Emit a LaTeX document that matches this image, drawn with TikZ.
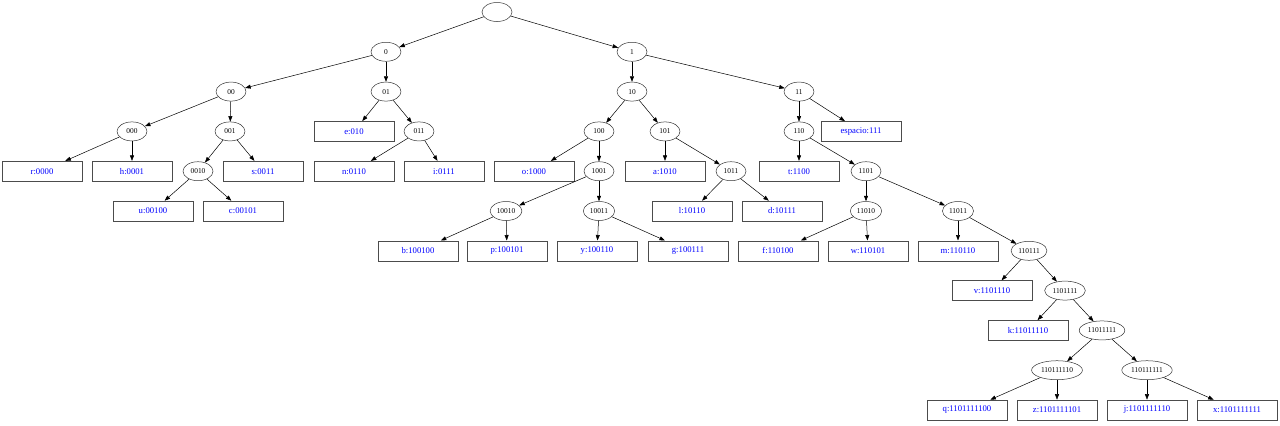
\documentclass[tikz,border=0pt]{standalone}
\usepackage{fontspec}
\setmainfont{Liberation Serif}
\usetikzlibrary{shapes.geometric, arrows.meta}
\begin{document}
\begin{tikzpicture}[x=1pt, y=-39.8pt, line width=0.5pt, >={Triangle[length=5.5pt, width=4pt]},
	codenode/.style={ellipse, draw=black!80, minimum width=30pt, minimum height=19pt, inner xsep=2pt, inner ysep=1pt, font=\fontsize{7.4}{8}\selectfont},
	charbox/.style={rectangle, draw=black!70, line width=0.6pt, minimum width=80pt, minimum height=20pt, inner sep=0pt, text=blue, font=\fontsize{8.7}{10}\selectfont}]
	\useasboundingbox (0, -0.3015) rectangle (1280, 10.377);
	\node[codenode](b) at (497, 0){};
	\node[codenode](b0) at (386, 1){0};
	\node[codenode](b1) at (632, 1){1};
	\node[codenode](b00) at (231, 2){00};
	\node[codenode](b01) at (386, 2){01};
	\node[codenode](b10) at (632, 2){10};
	\node[codenode](b11) at (799, 2){11};
	\node[codenode](b000) at (132, 3){000};
	\node[codenode](b001) at (230, 3){001};
	\node[charbox](E) at (354, 3){e:010};
	\node[codenode](b011) at (419, 3){011};
	\node[codenode](b100) at (599, 3){100};
	\node[codenode](b101) at (665, 3){101};
	\node[codenode](b110) at (799, 3){110};
	\node[charbox](SP) at (861, 3){espacio:111};
	\node[charbox](R) at (42, 4){r:0000};
	\node[charbox](H) at (132, 4){h:0001};
	\node[codenode](b0010) at (198, 4){0010};
	\node[charbox](S) at (263, 4){s:0011};
	\node[charbox](N) at (354, 4){n:0110};
	\node[charbox](I) at (444, 4){i:0111};
	\node[charbox](O) at (534, 4){o:1000};
	\node[codenode](b1001) at (599, 4){1001};
	\node[charbox](A) at (665, 4){a:1010};
	\node[codenode](b1011) at (731, 4){1011};
	\node[charbox](T) at (799, 4){t:1100};
	\node[codenode](b1101) at (866, 4){1101};
	\node[charbox](U) at (153, 5){u:00100};
	\node[charbox](C) at (243, 5){c:00101};
	\node[codenode](b10010) at (506, 5){10010};
	\node[codenode](b10011) at (599, 5){10011};
	\node[charbox](L) at (692, 5){l:10110};
	\node[charbox](D) at (782, 5){d:10111};
	\node[codenode](b11010) at (866, 5){11010};
	\node[codenode](b11011) at (958, 5){11011};
	\node[charbox](B) at (418, 6){b:100100};
	\node[charbox](P) at (507, 6){p:100101};
	\node[charbox](Y) at (597, 6){y:100110};
	\node[charbox](G) at (688, 6){g:100111};
	\node[charbox](F) at (778, 6){f:110100};
	\node[charbox](W) at (868, 6){w:110101};
	\node[charbox](M) at (958, 6){m:110110};
	\node[codenode](b110111) at (1029, 6){110111};
	\node[charbox](V) at (992, 7){v:1101110};
	\node[codenode](b1101111) at (1065, 7){1101111};
	\node[charbox](K) at (1028, 8){k:11011110};
	\node[codenode](b11011111) at (1102, 8){11011111};
	\node[codenode](b110111110) at (1057, 9){110111110};
	\node[codenode](b110111111) at (1147, 9){110111111};
	\node[charbox](Q) at (967, 10){q:1101111100};
	\node[charbox](Z) at (1057, 10){z:1101111101};
	\node[charbox](J) at (1147, 10){j:1101111110};
	\node[charbox](X) at (1237, 10){x:1101111111};


	\draw [->] (b) -- (b0);
	\draw [->] (b) -- (b1);
	\draw [->] (b0) -- (b00);
	\draw [->] (b0) -- (b01);
	\draw [->] (b1) -- (b10);
	\draw [->] (b1) -- (b11);
	\draw [->] (b00) -- (b000);
	\draw [->] (b00) -- (b001);
	\draw [->] (b01) -- (E);
	\draw [->] (b01) -- (b011);
	\draw [->] (b10) -- (b100);
	\draw [->] (b10) -- (b101);
	\draw [->] (b11) -- (b110);
	\draw [->] (b11) -- (SP);
	\draw [->] (b000) -- (R);
	\draw [->] (b000) -- (H);
	\draw [->] (b001) -- (b0010);
	\draw [->] (b001) -- (S);
	\draw [->] (b011) -- (N);
	\draw [->] (b011) -- (I);
	\draw [->] (b100) -- (O);
	\draw [->] (b100) -- (b1001);
	\draw [->] (b101) -- (A);
	\draw [->] (b101) -- (b1011);
	\draw [->] (b110) -- (T);
	\draw [->] (b110) -- (b1101);
	\draw [->] (b0010) -- (U);
	\draw [->] (b0010) -- (C);
	\draw [->] (b1001) -- (b10010);
	\draw [->] (b1001) -- (b10011);
	\draw [->] (b1011) -- (L);
	\draw [->] (b1011) -- (D);
	\draw [->] (b1101) -- (b11010);
	\draw [->] (b1101) -- (b11011);
	\draw [->] (b10010) -- (B);
	\draw [->] (b10010) -- (P);
	\draw [->] (b10011) -- (Y);
	\draw [->] (b10011) -- (G);
	\draw [->] (b11010) -- (F);
	\draw [->] (b11010) -- (W);
	\draw [->] (b11011) -- (M);
	\draw [->] (b11011) -- (b110111);
	\draw [->] (b110111) -- (V);
	\draw [->] (b110111) -- (b1101111);
	\draw [->] (b1101111) -- (K);
	\draw [->] (b1101111) -- (b11011111);
	\draw [->] (b11011111) -- (b110111110);
	\draw [->] (b11011111) -- (b110111111);
	\draw [->] (b110111110) -- (Q);
	\draw [->] (b110111110) -- (Z);
	\draw [->] (b110111111) -- (J);
	\draw [->] (b110111111) -- (X);
\end{tikzpicture}
\end{document}
